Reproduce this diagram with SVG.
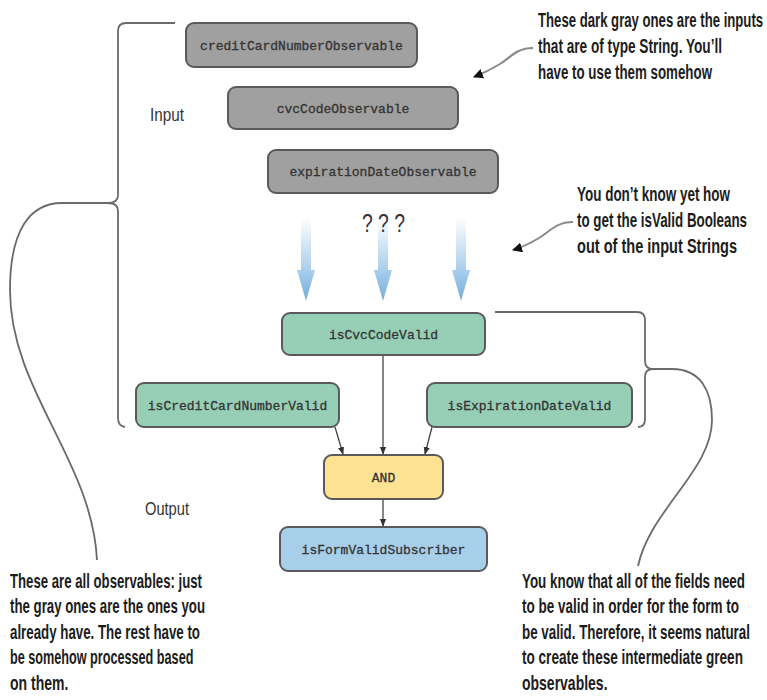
<svg xmlns="http://www.w3.org/2000/svg" width="767" height="700" viewBox="0 0 767 700">
  <style>
    .node rect { stroke: #5a5a5a; stroke-width: 2; }
    .gray rect { fill: #a0a0a0; }
    .green rect { fill: #97cfb6; }
    .yellow rect { fill: #fde293; }
    .blue rect { fill: #a8cfea; }
    .code { font-family: "Liberation Mono", "Courier New", monospace; font-size: 13px; fill: #333; stroke: #333; stroke-width: 0.3; text-anchor: middle; }
    .label { font-family: "Liberation Sans", Arial, sans-serif; font-size: 18px; fill: #333; }
    .label.unknown { font-size: 25px; }
    .note { font-family: "Liberation Sans", Arial, sans-serif; font-size: 20px; font-weight: bold; fill: #1c1c1c; }
    .link { fill: none; stroke: #444; stroke-width: 1.3; }
    .brace { fill: none; stroke: #6a6a6a; stroke-width: 1.8; }
    .pointer { fill: none; stroke: #8a8a8a; stroke-width: 2; }
    .flow { fill: url(#flowFade); }
  </style>
  <defs>
    <marker id="tip" viewBox="0 0 10 10" refX="9" refY="5" markerWidth="6" markerHeight="6" orient="auto">
      <path d="M0,1 L10,5 L0,9 z" fill="#333"/>
    </marker>
    <marker id="callTip" viewBox="0 0 10 10" refX="9" refY="5" markerWidth="5" markerHeight="5" orient="auto">
      <path d="M0,0 L10,5 L0,10 z" fill="#111"/>
    </marker>
    <linearGradient id="flowFade" x1="0" y1="0" x2="0" y2="1">
      <stop offset="0" stop-color="#ffffff"/>
      <stop offset="0.55" stop-color="#b4d5ee"/>
      <stop offset="1" stop-color="#74aedb"/>
    </linearGradient>
  </defs>

  <rect width="767" height="700" fill="#ffffff"/>

  <g id="connectors">
    <!-- fading flow arrows from the inputs -->
    <path class="flow" d="M301,217 H311 V270 H315 L306,301 L297,270 H301 Z"/>
    <path class="flow" d="M378,217 H388 V270 H392 L383,301 L374,270 H378 Z"/>
    <path class="flow" d="M456,217 H466 V270 H470 L461,301 L452,270 H456 Z"/>

    <!-- links into AND and the subscriber -->
    <line class="link" x1="383" y1="355" x2="383" y2="454" marker-end="url(#tip)"/>
    <line class="link" x1="335" y1="427" x2="343" y2="454" marker-end="url(#tip)"/>
    <line class="link" x1="432" y1="427" x2="425" y2="454" marker-end="url(#tip)"/>
    <line class="link" x1="383" y1="499" x2="383" y2="526" marker-end="url(#tip)"/>

    <!-- left brace and its lead to the note -->
    <path class="brace" d="M175,23 H126 Q118,23 118,31 V195 Q118,203 108,203 Q118,203 118,211 V418 Q118,426 125,427"/>
    <path class="brace" d="M108,203 H62 C30,203 10,230 10,290 C10,390 92,460 97,560"/>

    <!-- right brace and its lead to the note -->
    <path class="brace" d="M495,312 H637 Q645,312 645,320 V361 Q645,369 653,369 Q645,369 645,377 V419 Q645,427 638,427"/>
    <path class="brace" d="M653,369 H672 C700,369 712,390 712,420 C712,470 650,510 638,566"/>

    <!-- note pointers -->
    <path class="pointer" d="M533,48 C516,48 510,58 500,64 C490,70 484,73 474,77" marker-end="url(#callTip)"/>
    <path class="pointer" d="M573,222 C556,222 549,232 539,238 C529,244 523,247 513,250" marker-end="url(#callTip)"/>
  </g>

  <!-- side labels -->
  <text class="label" x="150" y="121" textLength="34" lengthAdjust="spacingAndGlyphs">Input</text>
  <text class="label" x="145" y="515" textLength="44" lengthAdjust="spacingAndGlyphs">Output</text>
  <text class="label unknown" x="362" y="232" textLength="43" lengthAdjust="spacingAndGlyphs">? ? ?</text>

  <!-- string inputs -->
  <g id="creditCardNumberObservable" class="node gray">
    <rect x="186" y="23" width="231" height="44" rx="8"/>
    <text class="code" x="301.5" y="49.5">creditCardNumberObservable</text>
  </g>
  <g id="cvcCodeObservable" class="node gray">
    <rect x="228" y="87" width="230" height="42" rx="8"/>
    <text class="code" x="343" y="112.5">cvcCodeObservable</text>
  </g>
  <g id="expirationDateObservable" class="node gray">
    <rect x="268" y="150" width="230" height="43" rx="8"/>
    <text class="code" x="383" y="176">expirationDateObservable</text>
  </g>

  <!-- intermediate validity observables -->
  <g id="isCvcCodeValid" class="node green">
    <rect x="282" y="313" width="203" height="42" rx="8"/>
    <text class="code" x="383.5" y="338.5">isCvcCodeValid</text>
  </g>
  <g id="isCreditCardNumberValid" class="node green">
    <rect x="136" y="383" width="203" height="44" rx="8"/>
    <text class="code" x="237.5" y="409.5">isCreditCardNumberValid</text>
  </g>
  <g id="isExpirationDateValid" class="node green">
    <rect x="427" y="383" width="205" height="44" rx="8"/>
    <text class="code" x="529.5" y="409.5">isExpirationDateValid</text>
  </g>

  <!-- combination and output -->
  <g id="and" class="node yellow">
    <rect x="324" y="455" width="119" height="44" rx="8"/>
    <text class="code" x="383.5" y="481.5">AND</text>
  </g>
  <g id="isFormValidSubscriber" class="node blue">
    <rect x="280" y="527" width="207" height="44" rx="8"/>
    <text class="code" x="383.5" y="553.5">isFormValidSubscriber</text>
  </g>

  <!-- notes: glyphs condensed horizontally, lengths trimmed per line -->
  <g id="note-inputs" transform="scale(0.66,1)">
    <text class="note" x="815.2" y="27" textLength="341" lengthAdjust="spacingAndGlyphs">These dark gray ones are the inputs</text>
    <text class="note" x="815.2" y="53" textLength="278.8" lengthAdjust="spacingAndGlyphs">that are of type String. You’ll</text>
    <text class="note" x="815.2" y="79" textLength="263.6" lengthAdjust="spacingAndGlyphs">have to use them somehow</text>
  </g>
  <g id="note-unknown" transform="scale(0.7,1)">
    <text class="note" x="824.3" y="201" textLength="218.6" lengthAdjust="spacingAndGlyphs">You don’t know yet how</text>
    <text class="note" x="824.3" y="227" textLength="242.9" lengthAdjust="spacingAndGlyphs">to get the isValid Booleans</text>
    <text class="note" x="824.3" y="253" textLength="228.6" lengthAdjust="spacingAndGlyphs">out of the input Strings</text>
  </g>
  <g id="note-observables" transform="scale(0.7,1)">
    <text class="note" x="14.3" y="588" textLength="274.3" lengthAdjust="spacingAndGlyphs">These are all observables: just</text>
    <text class="note" x="14.3" y="613" textLength="278.6" lengthAdjust="spacingAndGlyphs">the gray ones are the ones you</text>
    <text class="note" x="14.3" y="639" textLength="271.4" lengthAdjust="spacingAndGlyphs">already have. The rest have to</text>
    <text class="note" x="14.3" y="664" textLength="262" lengthAdjust="spacingAndGlyphs">be somehow processed based</text>
    <text class="note" x="14.3" y="690">on them.</text>
  </g>
  <g id="note-fields" transform="scale(0.7,1)">
    <text class="note" x="745.7" y="588" textLength="318.6" lengthAdjust="spacingAndGlyphs">You know that all of the fields need</text>
    <text class="note" x="745.7" y="613" textLength="310" lengthAdjust="spacingAndGlyphs">to be valid in order for the form to</text>
    <text class="note" x="745.7" y="639" textLength="325.7" lengthAdjust="spacingAndGlyphs">be valid. Therefore, it seems natural</text>
    <text class="note" x="745.7" y="664" textLength="315.7" lengthAdjust="spacingAndGlyphs">to create these intermediate green</text>
    <text class="note" x="745.7" y="690">observables.</text>
  </g>
</svg>
